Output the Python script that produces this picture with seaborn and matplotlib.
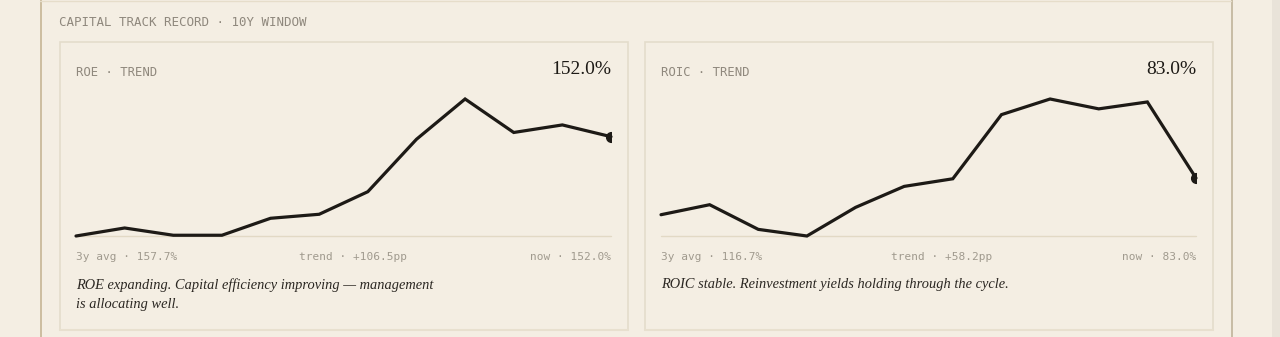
import matplotlib
matplotlib.use("Agg")
import matplotlib.pyplot as plt
import seaborn as sns
import pandas as pd
from matplotlib.patches import Rectangle

# ten-year window, yearly points
years = list(range(2014, 2026))
roe = [45.5, 54.1, 46.3, 46.3, 64.5, 68.8, 93.0, 149.2, 192.4, 156.5, 164.6, 152.0]
roic = [57.0, 64.1, 46.6, 41.9, 62.2, 77.1, 82.5, 128.0, 139.1, 132.1, 137.0, 83.0]

metric_names = ["ROE", "ROIC"]
headline = ["152.0%", "83.0%"]
avg_labels = ["3y avg · 157.7%", "3y avg · 116.7%"]
trend_labels = ["trend · +106.5pp", "trend · +58.2pp"]
now_labels = ["now · 152.0%", "now · 83.0%"]
captions = [
    "ROE expanding. Capital efficiency improving — management\nis allocating well.",
    "ROIC stable. Reinvestment yields holding through the cycle.",
]

BG = "#f4eee3"
INK = "#1d1a16"
MUTED = "#8f887d"
FAINT = "#a09a8e"
CARD_EDGE = "#e4dccb"
MONO = "DejaVu Sans Mono"
SERIF = "Liberation Serif"

sns.set_theme(style="white")
plt.rcParams["font.family"] = ["DejaVu Sans"]

W, H = 1280, 337
fig = plt.figure(figsize=(W / 100, H / 100), dpi=100, facecolor=BG)

# background layer in pixel coordinates
bg = fig.add_axes([0, 0, 1, 1])
bg.set_xlim(0, W)
bg.set_ylim(H, 0)
bg.axis("off")
bg.add_patch(Rectangle((1272, 0), 8, H, color="#e9e3d9", lw=0))
bg.plot([40.5, 40.5], [0, H], color="#c9b99a", lw=1.3)
bg.plot([1231.5, 1231.5], [0, H], color="#c4b8a0", lw=1.3)
bg.plot([40, 1231], [0.5, 0.5], color="#e6ddca", lw=1.0)

bg.text(59, 23, "CAPITAL TRACK RECORD · 10Y WINDOW", family=MONO, fontsize=9,
        color=MUTED, va="center", ha="left")

series = [roe, roic]
card_x = [59.5, 644.5]
plot_x = [76, 661]
plot_w = 535
plot_top, plot_bot = 99, 236

for i, vals in enumerate(series):
    cx = card_x[i]
    bg.add_patch(Rectangle((cx, 41.5), 568, 288, fill=False, ec=CARD_EDGE, lw=1.2))
    bg.plot([cx, cx + 568], [330, 330], color="#e8e0cf", lw=1.5)

    left = plot_x[i]
    right = left + plot_w
    bg.text(left, 72, f"{metric_names[i]} · TREND", family=MONO, fontsize=8.8,
            color=MUTED, va="center", ha="left")
    bg.text(right, 70, headline[i], family=SERIF, fontsize=14, color=INK,
            va="center", ha="right")

    bg.text(left, 257, avg_labels[i], family=MONO, fontsize=8, color=FAINT,
            va="center", ha="left")
    bg.text(left + 223 + (7 if i == 1 else 0), 257, trend_labels[i], family=MONO,
            fontsize=8, color=FAINT, va="center", ha="left")
    bg.text(right, 257, now_labels[i], family=MONO, fontsize=8, color=FAINT,
            va="center", ha="right")

    bg.text(left, 278, captions[i], family=SERIF, style="italic", fontsize=10.4,
            color="#2b2722", va="top", ha="left", linespacing=1.65)

    # sparkline
    ax = fig.add_axes([left / W, (H - plot_bot) / H, plot_w / W,
                       (plot_bot - plot_top) / H])
    ax.set_facecolor("none")
    df = pd.DataFrame({"year": years, "value": vals})
    sns.lineplot(data=df, x="year", y="value", ax=ax, color=INK, lw=2.3)
    for ln in ax.lines:
        ln.set_clip_on(False)
        ln.set_solid_joinstyle("miter")
    ax.set_xlim(years[0], years[-1])
    ax.set_ylim(min(vals), max(vals))
    ax.axhline(min(vals), color="#e2d9c5", lw=1, zorder=0, clip_on=False)
    ax.plot([years[-1]], [vals[-1]], "o", color=INK, ms=7, clip_on=True)
    ax.axis("off")

fig.savefig("out.png", dpi=100, facecolor=BG)
